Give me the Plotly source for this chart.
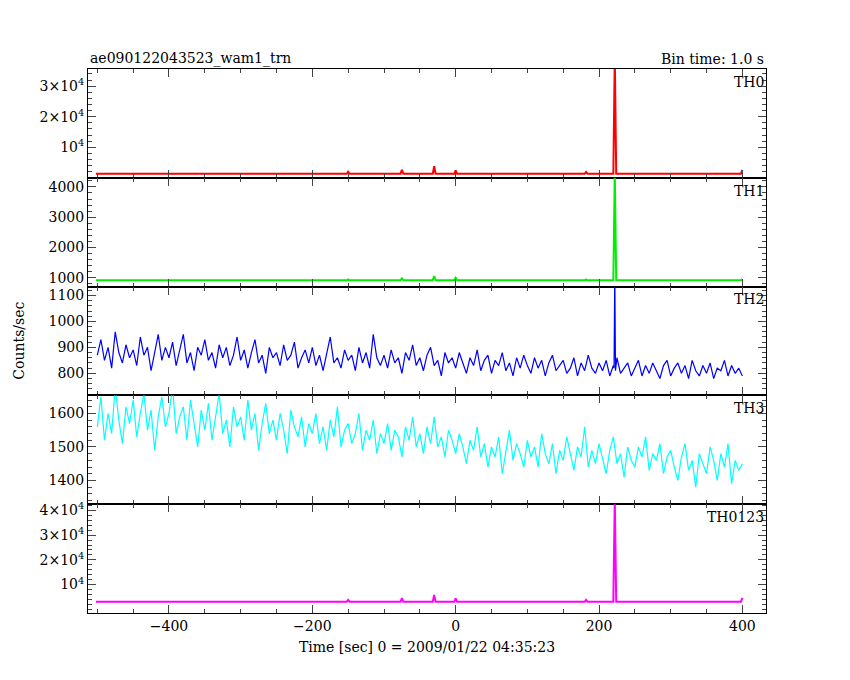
import plotly.graph_objects as go

time = list(range(-500, 405, 5))
th2_vals = [870,930,850,900,820,960,880,840,910,860,
890,830,940,870,900,810,880,950,850,900,
860,920,830,890,950,840,880,810,900,870,
930,850,880,820,910,860,900,830,870,940,
850,890,820,880,930,840,870,800,900,860,
880,830,910,850,870,920,820,860,890,840,
900,830,870,810,880,940,840,860,820,890,
850,870,810,900,840,880,820,950,860,830,
870,820,890,840,860,800,880,850,910,830,
860,810,870,900,830,850,790,880,840,860,
820,880,840,800,860,830,890,810,850,870,
800,850,830,880,810,840,790,860,820,870,
830,800,860,820,850,790,840,870,810,830,
850,800,820,860,790,840,810,870,820,800,
840,810,850,790,830,860,800,820,840,790,
820,850,790,830,800,840,810,780,830,850,
790,820,840,800,830,780,850,810,790,830,
800,840,780,820,810,850,790,830,800,820,
790]
th3_vals = [1560,1650,1520,1600,1540,1680,1580,1510,1620,1570,
1640,1530,1600,1660,1550,1610,1490,1590,1650,1560,
1600,1680,1540,1590,1620,1520,1640,1570,1500,1610,
1550,1630,1520,1590,1660,1540,1580,1500,1620,1560,
1590,1520,1640,1550,1600,1490,1570,1630,1540,1580,
1520,1600,1550,1480,1610,1560,1530,1590,1500,1570,
1540,1600,1510,1560,1490,1580,1530,1620,1500,1550,
1570,1510,1540,1600,1490,1550,1520,1580,1480,1540,
1510,1570,1490,1550,1530,1470,1560,1520,1590,1500,
1540,1480,1560,1510,1590,1500,1530,1470,1550,1520,
1480,1540,1500,1450,1520,1490,1560,1470,1510,1440,
1500,1470,1530,1420,1490,1550,1460,1510,1480,1440,
1520,1470,1500,1440,1540,1480,1450,1510,1420,1490,
1460,1530,1480,1430,1500,1470,1560,1440,1490,1450,
1510,1460,1420,1490,1530,1450,1480,1410,1500,1460,
1440,1500,1470,1530,1430,1480,1460,1510,1420,1470,
1490,1440,1400,1470,1510,1430,1460,1380,1480,1450,
1420,1500,1460,1400,1480,1440,1510,1390,1460,1430,
1450]
th2_spike_t = [221, 222, 223]
th2_spike_v = [820, 1200, 810]

t_sparse = [-502,-152,-150,-148,-77,-75,-73,-32,-30,-28,-2,0,2,180,182,184,220,222,224,398,400]
th0_vals = [1300,1300,2000,1300,1300,2600,1300,1300,3800,1300,1300,2400,1300,1300,1900,1300,1300,40000,1300,1300,2600]
th1_vals = [920,920,950,920,920,980,920,920,1060,920,920,1000,920,920,950,920,920,4500,920,920,960]
th0123_vals = [3000,3000,3800,3000,3000,4500,3000,3000,5800,3000,3000,4400,3000,3000,3800,3000,3000,45000,3000,3000,4600]

def merge(t, v, st, sv):
    d = dict(zip(t, v)); d.update(zip(st, sv))
    ks = sorted(d)
    return ks, [d[k] for k in ks]

t2, v2 = merge(time, th2_vals, th2_spike_t, th2_spike_v)

font = dict(family="DejaVu Serif", size=14, color="black")
fig = go.Figure()
series = [(t_sparse, th0_vals, "red", "TH0", 2), (t_sparse, th1_vals, "#00ee00", "TH1", 2),
          (t2, v2, "blue", "TH2", 1.2), (time, th3_vals, "cyan", "TH3", 1.2),
          (t_sparse, th0123_vals, "magenta", "TH0123", 2)]
ranges = [[0, 35600], [710, 4300], [715, 1134], [1329, 1654], [-1500, 42500]]
ticks = [([10000, 20000, 30000], ["10<sup>4</sup>", "2×10<sup>4</sup>", "3×10<sup>4</sup>"]),
         ([1000, 2000, 3000, 4000], ["1000", "2000", "3000", "4000"]),
         ([800, 900, 1000, 1100], ["800", "900", "1000", "1100"]),
         ([1400, 1500, 1600], ["1400", "1500", "1600"]),
         ([10000, 20000, 30000, 40000], ["10<sup>4</sup>", "2×10<sup>4</sup>", "3×10<sup>4</sup>", "4×10<sup>4</sup>"])]
anns = []
for i, (t, v, c, name, w) in enumerate(series):
    ax = "" if i == 0 else str(i + 1)
    fig.add_trace(go.Scatter(x=t, y=v, mode="lines", line=dict(color=c, width=w),
                             xaxis="x" + ax, yaxis="y" + ax, showlegend=False))
    top = round(1 - i * 0.2, 4)
    bot = max(0.0, round(top - 0.2, 4))
    xa = dict(anchor="y" + ax, range=[-513, 433],
              tickvals=[-400, -200, 0, 200, 400], showticklabels=(i == 4),
              ticks="inside", ticklen=8, mirror="ticks", showline=True,
              linecolor="black", linewidth=1, showgrid=False, zeroline=False,
              tickfont=font, minor=dict(ticks="inside", ticklen=4, dtick=50))
    if i > 0:
        xa["matches"] = "x"
    fig.update_layout(**{
        "yaxis" + ax: dict(domain=[bot, top], range=ranges[i], tickvals=ticks[i][0],
                           ticktext=ticks[i][1], ticks="inside", ticklen=8, mirror="ticks",
                           showline=True, linecolor="black", linewidth=1, showgrid=False,
                           zeroline=False, tickfont=font, minor=dict(ticks="inside", ticklen=4)),
        "xaxis" + ax: xa,
    })
    anns.append(dict(text=name, xref="paper", yref="paper", x=1, y=top - 0.005,
                     xanchor="right", yanchor="top", showarrow=False, font=font))

anns += [
    dict(text="ae090122043523_wam1_trn", xref="paper", yref="paper", x=0, y=1,
         xanchor="left", yanchor="bottom", showarrow=False, font=font),
    dict(text="Bin time: 1.0 s", xref="paper", yref="paper", x=1, y=1,
         xanchor="right", yanchor="bottom", showarrow=False, font=font),
    dict(text="Counts/sec", xref="paper", yref="paper", x=-0.117, y=0.5,
         textangle=-90, showarrow=False, font=font),
    dict(text="Time [sec] 0 = 2009/01/22 04:35:23", xref="paper", yref="paper",
         x=0.5, y=-0.045, yanchor="top", showarrow=False, font=font),
]
fig.update_layout(width=850, height=680, plot_bgcolor="white", paper_bgcolor="white",
                  margin=dict(l=80, r=92, t=61, b=75, autoexpand=False), font=font,
                  annotations=anns)
fig.write_html("out.html")
